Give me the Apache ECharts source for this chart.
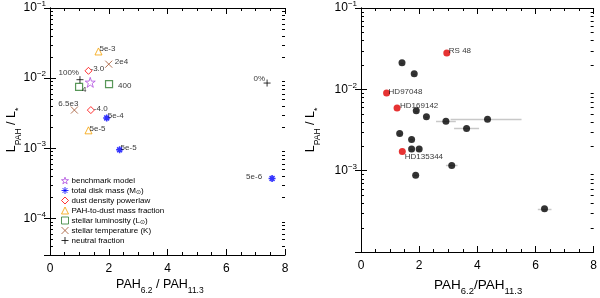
<!DOCTYPE html>
<html><head><meta charset="utf-8">
<script src="https://cdn.jsdelivr.net/npm/echarts@6/dist/echarts.min.js"></script>
<style>html,body{margin:0;padding:0;background:#fff}#c{width:600px;height:298px}</style>
</head><body><div id="c"></div>
<script>
// ---------- Left panel: model grid ----------
const benchX = [1.37], benchY = [0.0087];
const massX = [1.93, 2.37, 7.56], massY = [0.0027, 0.00095, 0.00037], massLbl = ['5e-4', '5e-5', '5e-6'];
const densX = [1.31, 1.39], densY = [0.0127, 0.0035], densLbl = ['-3.0', '-4.0'];
const fracX = [1.65, 1.31], fracY = [0.024, 0.0018], fracLbl = ['5e-3', '5e-5'];
const lumX = [0.99, 2.01], lumY = [0.0075, 0.0082], lumLbl = ['4', '400'];
const tempX = [2.0, 0.83], tempY = [0.0158, 0.0035], tempLbl = ['2e4', '6.5e3'];
const neutX = [1.02, 7.39], neutY = [0.0095, 0.0085], neutLbl = ['100%', '0%'];
const legendNames = ['benchmark model', 'total disk mass', 'dust density powerlaw', 'PAH-to-dust mass fraction', 'stellar luminosity', 'stellar temperature', 'neutral fraction'];

// ---------- Right panel: observations ----------
const redX = [2.95, 0.88, 1.24, 1.42], redY = [0.028, 0.009, 0.0059, 0.00172];
const redLbl = ['RS 48', 'HD97048', 'HD169142', 'HD135344'];
const blkX = [1.41, 1.83, 1.90, 2.25, 2.92, 4.35, 3.63, 1.33, 1.74, 1.74, 2.00, 3.12, 1.88, 6.31];
const blkY = [0.0213, 0.0156, 0.00545, 0.0046, 0.00405, 0.0043, 0.0033, 0.00286, 0.00242, 0.00185, 0.00185, 0.00116, 0.00088, 0.00034];
const blkXlo = [1.36, 1.78, 1.85, 2.2, 2.58, 3.08, 3.2, 1.28, 1.69, 1.69, 1.95, 2.92, 1.83, 6.08];
const blkXhi = [1.46, 1.88, 1.95, 2.3, 3.26, 5.52, 4.06, 1.38, 1.79, 1.79, 2.05, 3.32, 1.93, 6.55];

// ---------- styles (label offsets, not data) ----------
const massPos = [[1, -2, 'left'], [1, -2, 'left'], [-10, -2, 'right']];
const densPos = [[2, -2, 'left'], [3, -1, 'left']];
const fracPos = [[1, -3, 'left'], [1, -2, 'left']];
const lumPos = [[3, 3, 'left'], [9, 2, 'left']];
const tempPos = [[6, -2, 'left'], [4, -6, 'right']];
const neutPos = [[-1, -7, 'right'], [-2, -4, 'right']];
const redPos = [[2, -2, 'left'], [2, -1.5, 'left'], [3, -2, 'left'], [2.5, 5, 'left']];

const FONT = 'Liberation Sans, Arial, sans-serif';
function items(xs, ys, lbls, pos) {
  return xs.map((x, i) => {
    const it = { value: [x, ys[i]] };
    if (lbls) {
      it.label = { show: true, formatter: lbls[i], position: 'inside', align: pos[i][2], verticalAlign: 'middle',
        offset: [pos[i][0], pos[i][1]], fontSize: 8, color: '#000', fontFamily: FONT };
    }
    return it;
  });
}
const STAR = 'path://M50,2 L61,36 L97,36 L68,57 L79,92 L50,71 L21,92 L32,57 L3,36 L39,36 Z';
const AST = 'path://M0,5L10,5M5,0L5,10M1.5,1.5L8.5,8.5M8.5,1.5L1.5,8.5';
const XS = 'path://M0,0L10,10M10,0L0,10';
const PLUS = 'path://M5,0L5,10M0,5L10,5';
const COLS = ['#b04ee0', '#0000ff', '#ff0000', '#f5a000', '#2e7d2e', '#a0522d', '#000000'];
const SYMS = [STAR, AST, 'diamond', 'triangle', 'rect', XS, PLUS];
function sc(idx, size, data, bw) {
  return { type: 'scatter', name: legendNames[idx], xAxisIndex: 0, yAxisIndex: 0, symbol: SYMS[idx], symbolSize: size,
    itemStyle: { color: 'rgba(0,0,0,0)', borderColor: COLS[idx], borderWidth: bw || 1 }, data: data, z: 5 };
}
function minorVals(lo, hi) {
  const out = [];
  for (let e = -5; e <= -1; e++) for (let k = 2; k <= 9; k++) { const v = k * Math.pow(10, e); if (v > lo * 1.0001 && v < hi * 0.9999) out.push([0, v]); }
  return out;
}
function minorRender(params, api) {
  const v = api.value(1);
  const a = api.coord([0, v]), b = api.coord([8, v]);
  const y = Math.round(a[1]) + 0.5;
  return { type: 'group', children: [
    { type: 'line', shape: { x1: a[0], y1: y, x2: a[0] + 3, y2: y }, style: { stroke: '#000', lineWidth: 1 } },
    { type: 'line', shape: { x1: b[0] - 3, y1: y, x2: b[0], y2: y }, style: { stroke: '#000', lineWidth: 1 } }
  ] };
}
function errRender(params, api) {
  const a = api.coord([api.value(0), api.value(2)]), b = api.coord([api.value(1), api.value(2)]);
  const y = Math.round(a[1]) + 0.5;
  return { type: 'line', shape: { x1: a[0], y1: y, x2: b[0], y2: y }, style: { stroke: '#c8c8c8', lineWidth: 1.5 } };
}
function yLab(v) {
  const l = Math.log10(v), e = Math.round(l);
  if (Math.abs(l - e) > 1e-6) return '';
  return '{b|10}{s|−' + (-e) + '}';
}
const yRich = { b: { fontSize: 12, lineHeight: 16, fontFamily: FONT, color: '#000' },
  s: { fontSize: 8, lineHeight: 9, verticalAlign: 'top', fontFamily: FONT, color: '#000' } };

function xAx(grid, pos, show) {
  return { type: 'value', gridIndex: grid, position: pos, min: 0, max: 8, interval: 2,
    axisLine: { show: true, lineStyle: { color: '#000', width: 1 } },
    axisTick: { show: true, inside: true, length: 6, lineStyle: { color: '#000', width: 1 } },
    minorTick: { show: true, splitNumber: 4, length: 3, lineStyle: { color: '#000', width: 1 } },
    axisLabel: { show: show, fontSize: 12, color: '#000', margin: 8, fontFamily: FONT },
    splitLine: { show: false }, minorSplitLine: { show: false } };
}
function yAx(grid, pos, show, min) {
  return { type: 'log', logBase: 10, gridIndex: grid, position: pos, min: min, max: 0.1,
    axisLine: { show: true, lineStyle: { color: '#000', width: 1 } },
    axisTick: { show: true, inside: true, length: 6, lineStyle: { color: '#000', width: 1 } },
    minorTick: { show: false },
    axisLabel: { show: show, formatter: yLab, rich: yRich, margin: 4, showMinLabel: false },
    splitLine: { show: false } };
}

const legendFmt = {
  'total disk mass': '{t|total disk mass (M}{u|⊙}{t|)}',
  'stellar luminosity': '{t|stellar luminosity (L}{u|⊙}{t|)}',
  'stellar temperature': '{t|stellar temperature (K)}'
};
const titleRich = (m, d) => ({
  m: { fontSize: m, fontFamily: FONT, fill: '#000', lineHeight: 14 },
  d: { fontSize: d, fontFamily: FONT, fill: '#000', lineHeight: 8, verticalAlign: 'bottom', padding: [0, 0, -4, 0] }
});

const chart = echarts.init(document.getElementById('c'), null, { renderer: 'canvas' });
chart.setOption({
  animation: false,
  backgroundColor: '#fff',
  grid: [
    { left: 50, top: 4, width: 235, height: 251 },
    { left: 361, top: 5, width: 234, height: 247 }
  ],
  xAxis: [xAx(0, 'bottom', true), xAx(0, 'top', false), xAx(1, 'bottom', true), xAx(1, 'top', false)],
  yAxis: [yAx(0, 'left', true, 3e-5), yAx(0, 'right', false, 3e-5), yAx(1, 'left', true, 1e-4), yAx(1, 'right', false, 1e-4)],
  legend: {
    data: legendNames.map((n, i) => ({ name: n, icon: SYMS[i],
      itemStyle: { color: 'rgba(0,0,0,0)', borderColor: COLS[i], borderWidth: 1 } })),
    orient: 'vertical', left: 61, top: 176, itemGap: 1, itemWidth: 7, itemHeight: 7, padding: 0,
    selectedMode: false,
    textStyle: { fontSize: 8, color: '#000', fontFamily: FONT, padding: [0, 0, 0, -2], lineHeight: 9,
      rich: { t: { fontSize: 8, fontFamily: FONT, color: '#000', lineHeight: 9 },
              u: { fontSize: 6, fontFamily: FONT, color: '#000', lineHeight: 6, verticalAlign: 'bottom' } } },
    formatter: n => legendFmt[n] || ('{t|' + n + '}')
  },
  graphic: [
    { type: 'text', left: 116, top: 278, style: { rich: titleRich(12.5, 8.5), text: '{m|PAH}{d|6.2}{m| / PAH}{d|11.3}' } },
    { type: 'text', left: 434, top: 278, style: { rich: titleRich(13.5, 9.5), text: '{m|PAH}{d|6.2}{m|/PAH}{d|11.3}' } },
    { type: 'text', x: 12, y: 130, rotation: Math.PI / 2, style: { align: 'center', verticalAlign: 'middle', rich: titleRich(12.5, 8.5),
      text: '{m|L}{d|PAH}{m| / L}{d|*}' } },
    { type: 'text', x: 311, y: 130, rotation: Math.PI / 2, style: { align: 'center', verticalAlign: 'middle', rich: titleRich(12.5, 8.5),
      text: '{m|L}{d|PAH}{m| / L}{d|*}' } }
  ],
  series: [
    { type: 'custom', xAxisIndex: 0, yAxisIndex: 0, renderItem: minorRender, data: minorVals(3e-5, 0.1), silent: true, z: 10, clip: false },
    { type: 'custom', xAxisIndex: 2, yAxisIndex: 2, renderItem: minorRender, data: minorVals(1e-4, 0.1), silent: true, z: 10, clip: false },
    sc(0, 10, items(benchX, benchY)),
    sc(1, 7, items(massX, massY, massLbl, massPos), 1.6),
    sc(2, 7, items(densX, densY, densLbl, densPos)),
    sc(3, 7, items(fracX, fracY, fracLbl, fracPos)),
    sc(4, 7, items(lumX, lumY, lumLbl, lumPos), 1.2),
    sc(5, 7, items(tempX, tempY, tempLbl, tempPos)),
    sc(6, 7, items(neutX, neutY, neutLbl, neutPos)),
    { type: 'custom', name: 'err', xAxisIndex: 2, yAxisIndex: 2, renderItem: errRender, silent: true, z: 2,
      encode: { x: [0, 1], y: 2 }, data: blkX.map((x, i) => [blkXlo[i], blkXhi[i], blkY[i]]) },
    { type: 'scatter', name: 'obs', xAxisIndex: 2, yAxisIndex: 2, symbol: 'circle', symbolSize: 7,
      itemStyle: { color: '#000' }, data: items(blkX, blkY), z: 3 },
    { type: 'scatter', name: 'obsRed', xAxisIndex: 2, yAxisIndex: 2, symbol: 'circle', symbolSize: 7,
      itemStyle: { color: '#e00000' }, data: items(redX, redY, redLbl, redPos), z: 4 }
  ]
});
</script></body></html>
